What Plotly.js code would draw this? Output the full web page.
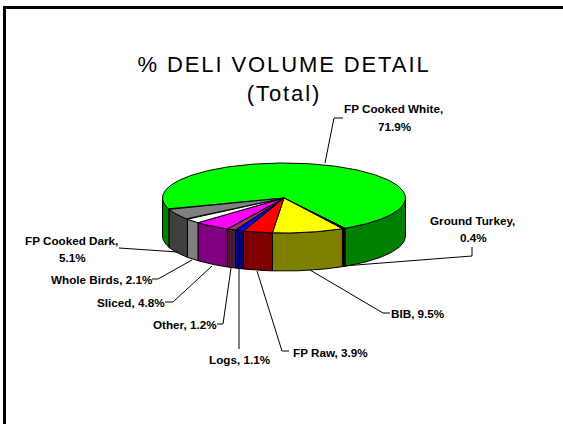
<!DOCTYPE html>
<html><head><meta charset="utf-8">
<script src="https://cdn.plot.ly/plotly-3.0.1.min.js"></script>
<style>html,body{margin:0;padding:0;background:#fff;overflow:hidden}#c{width:563px;height:424px}
.gtitle{letter-spacing:1.9px}</style>
</head><body><div id="c"></div>
<script>
// Data
var categories = ["FP Cooked White","Ground Turkey","BIB","FP Raw","Logs","Other","Sliced","Whole Birds","FP Cooked Dark"];
var shares = [71.9,0.4,9.5,3.9,1.1,1.2,4.8,2.1,5.1];
var topColors = ["#00ff00","#000000","#ffff00","#ff0000","#0000ff","#993366","#ff00ff","#ffffff","#808080"];
var sideColors = ["#008000","#000000","#808000","#800000","#000080","#4d1a33","#800080","#808080","#404040"];

// Pie geometry (pixels of the page, which the hidden axes map 1:1)
var cx=284, cy=198, rx=121.5, ry=35, depth=38, startDeg=161;
function pt(a,d){var r=a*Math.PI/180;return [cx+rx*Math.cos(r), cy+ry*Math.sin(r)+(d||0)];}
function arc(a0,a1,d){var n=Math.max(2,Math.ceil(Math.abs(a1-a0))),o=[];for(var i=0;i<=n;i++)o.push(pt(a0+(a1-a0)*i/n,d));return o;}
function poly(points,fill){return {type:"scatter",mode:"lines",x:points.map(function(p){return p[0]}),y:points.map(function(p){return p[1]}),
  fill:"toself",fillcolor:fill,line:{color:"#000",width:1},hoverinfo:"skip",showlegend:false};}

var traces=[], topTraces=[], a=startDeg;
categories.forEach(function(c,i){
  var a0=a, a1=a+shares[i]*3.6; a=a1;
  topTraces.push(poly([[cx,cy]].concat(arc(a0,a1)).concat([[cx,cy]]),topColors[i]));
  [[0,180],[360,540]].forEach(function(w){
    var s=Math.max(a0,w[0]), e=Math.min(a1,w[1]);
    if(e>s){traces.push(poly(arc(s,e,0).concat(arc(e,s,depth)).concat([pt(s,0)]),sideColors[i]));}
  });
});
traces=traces.concat(topTraces);

// Label placement (centre x, centre y of each text line) and leader lines
var labelPos=[[[393.5,108],[395,126]],[[472,220],[473,237]],[[418,313]],[[330,352]],[[239.5,359]],[[185,324]],[[131,302]],[[101.5,279]],[[71.5,240],[72.5,257]]];
var leaders=[
 [[325,163],[334,118],[343,118]],
 [[343,266],[472,256],[472,247]],
 [[310,270],[383,313],[390,313]],
 [[257,271],[282,351],[289,351]],
 [[239,268],[239,349]],
 [[231,268],[223,324],[217,324]],
 [[212,266],[173,302],[165,302]],
 [[192,260],[158,279],[152,279]],
 [[178,252],[119,248]]
];
var annotations=[];
categories.forEach(function(c,i){
  var v=shares[i].toFixed(1)+"%";
  var lines=labelPos[i].length===2 ? [c+",",v] : [c+", "+v];
  lines.forEach(function(t,j){
    annotations.push({x:labelPos[i][j][0],y:labelPos[i][j][1],xref:"x",yref:"y",text:t,showarrow:false,xanchor:"center",yanchor:"middle",
      font:{family:"Liberation Sans",size:11.7,color:"#000",weight:"bold"}});
  });
});
var shapes=leaders.map(function(l){
  return {type:"path",xref:"x",yref:"y",path:"M"+l.map(function(p){return p.join(",")}).join("L"),line:{color:"#000",width:1}};
});
// slide frame, running off the right and bottom of the picture
shapes.push({type:"path",xref:"x",yref:"y",path:"M4.5,430L4.5,7.5L570,7.5",line:{color:"#000",width:3}});

Plotly.newPlot("c",traces,{
  width:563,height:424,margin:{l:0,r:0,t:0,b:0},showlegend:false,
  paper_bgcolor:"#fff",plot_bgcolor:"#fff",
  title:{text:"% DELI VOLUME DETAIL<br>(Total)",x:284/563,xanchor:"center",y:1-72/424,yanchor:"top",
    font:{family:"Liberation Sans",size:22,color:"#000"}},
  xaxis:{range:[0,563],visible:false,fixedrange:true},
  yaxis:{range:[424,0],visible:false,fixedrange:true},
  shapes:shapes,annotations:annotations
},{displayModeBar:false,staticPlot:true});
</script></body></html>
